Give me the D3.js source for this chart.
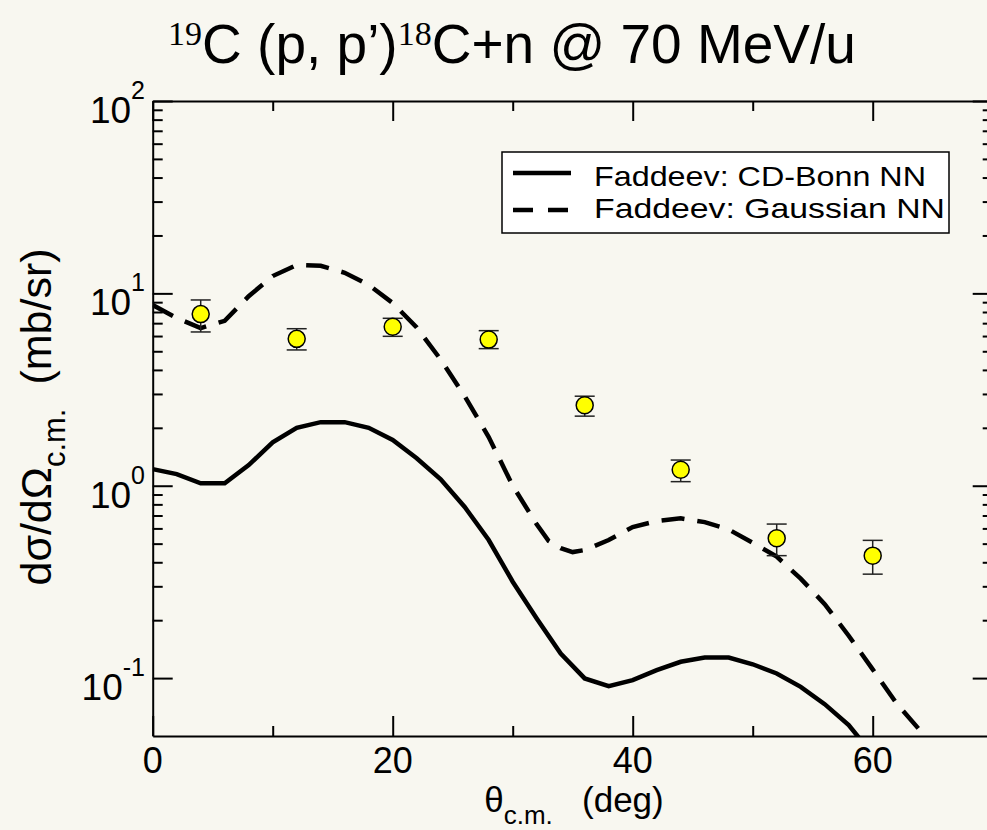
<!DOCTYPE html>
<html>
<head>
<meta charset="utf-8">
<script src="https://cdn.jsdelivr.net/npm/d3@7"></script>
<style>
  body { margin: 0; background: #f8f7f0; }
  svg { display: block; }
  text { font-family: "Liberation Sans", Arial, Helvetica, sans-serif; fill: #000; }
</style>
</head>
<body>
<svg id="chart" width="987" height="830"></svg>
<script>
// Faddeev calculation, CD-Bonn NN interaction (mb/sr)
const cdBonnAngles = [0, 2, 4, 6, 8, 10, 12, 14, 16, 18, 20, 22, 24, 26, 28, 30, 32, 34, 36, 38, 40, 42, 44, 46, 48, 50, 52, 54, 56, 58, 60];
const cdBonnValues = [1.22, 1.15, 1.03, 1.03, 1.28, 1.68, 2.0, 2.14, 2.14, 2.0, 1.73, 1.39, 1.08, 0.775, 0.522, 0.317, 0.204, 0.134, 0.0996, 0.0909, 0.0976, 0.110, 0.1216, 0.128, 0.128, 0.118, 0.1057, 0.0901, 0.0732, 0.057, 0.040];

// Faddeev calculation, Gaussian NN interaction (mb/sr)
const gaussAngles = [0, 2, 4, 6, 8, 10, 12, 14, 16, 18, 20, 22, 24, 26, 28, 30, 32, 33, 34, 35, 36, 38, 40, 42, 44, 46, 48, 50, 52, 54, 56, 58, 60, 62, 64, 66];
const gaussValues = [8.7, 7.45, 6.6, 7.2, 9.66, 12.3, 14.05, 13.9, 12.8, 11.06, 8.91, 6.65, 4.53, 2.92, 1.79, 1.0, 0.63, 0.516, 0.474, 0.452, 0.463, 0.522, 0.61, 0.655, 0.677, 0.647, 0.592, 0.505, 0.428, 0.329, 0.2425, 0.166, 0.111, 0.0737, 0.053, 0.036];

// Measured cross sections with error bars
const expAngles = [4, 12, 20, 28, 36, 44, 52, 60];
const expValues = [7.8, 5.8, 6.7, 5.75, 2.62, 1.21, 0.533, 0.433];
const expLow    = [6.3, 5.08, 5.98, 5.16, 2.30, 1.05, 0.433, 0.347];
const expHigh   = [9.24, 6.55, 7.42, 6.4, 2.92, 1.36, 0.632, 0.52];

// Axis ticks
const xMajorTicks = [0, 20, 40, 60];
const xMinorTicks = [10, 30, 50, 70];
const yDecades = [-1, 0, 1, 2];
const legendLabels = ["Faddeev: CD-Bonn NN", "Faddeev: Gaussian NN"];

const svg = d3.select("#chart");
const W = 987, H = 830;
svg.append("rect").attr("width", W).attr("height", H).attr("fill", "#f8f7f0");

const pLeft = 152.7, pRight = 992.7, pTop = 101, pBottom = 736;
const x = d3.scaleLinear().domain([0, 70]).range([pLeft, pRight]);
const y = d3.scaleLog().domain([0.05, 100]).range([pBottom, pTop]);

const yMajor = yDecades.map(k => Math.pow(10, k));
const yMinor = [];
yDecades.forEach(k => {
  for (let m = 2; m <= 9; m++) {
    const v = m * Math.pow(10, k);
    if (v > 0.05 && v < 100) yMinor.push(v);
  }
});

// clip region for curves
svg.append("defs").append("clipPath").attr("id", "plotClip")
  .append("rect").attr("x", pLeft).attr("y", pTop).attr("width", pRight - pLeft).attr("height", pBottom - pTop);

function styleAxis(g) {
  g.selectAll(".domain").attr("stroke", "#000").attr("stroke-width", 2);
  g.selectAll(".tick line").attr("stroke", "#000").attr("stroke-width", 2);
  g.selectAll(".tick text").remove();
}

// bottom / top axes
svg.append("g").attr("transform", `translate(0,${pBottom})`)
  .call(d3.axisBottom(x).tickValues(xMajorTicks).tickSizeInner(-20).tickSizeOuter(0).tickFormat(""))
  .call(styleAxis);
svg.append("g").attr("transform", `translate(0,${pBottom})`)
  .call(d3.axisBottom(x).tickValues(xMinorTicks).tickSizeInner(-10).tickSizeOuter(0).tickFormat(""))
  .call(g => g.select(".domain").remove()).call(styleAxis);
svg.append("g").attr("transform", `translate(0,${pTop})`)
  .call(d3.axisTop(x).tickValues(xMajorTicks).tickSizeInner(-20).tickSizeOuter(0).tickFormat(""))
  .call(styleAxis);
svg.append("g").attr("transform", `translate(0,${pTop})`)
  .call(d3.axisTop(x).tickValues(xMinorTicks).tickSizeInner(-10).tickSizeOuter(0).tickFormat(""))
  .call(g => g.select(".domain").remove()).call(styleAxis);

// left / right axes
svg.append("g").attr("transform", `translate(${pLeft},0)`)
  .call(d3.axisLeft(y).tickValues(yMajor).tickSizeInner(-20).tickSizeOuter(0).tickFormat(""))
  .call(styleAxis);
svg.append("g").attr("transform", `translate(${pLeft},0)`)
  .call(d3.axisLeft(y).tickValues(yMinor).tickSizeInner(-10).tickSizeOuter(0).tickFormat(""))
  .call(g => g.select(".domain").remove()).call(styleAxis);
svg.append("g").attr("transform", `translate(${pRight},0)`)
  .call(d3.axisRight(y).tickValues(yMajor).tickSizeInner(-20).tickSizeOuter(0).tickFormat(""))
  .call(styleAxis);
svg.append("g").attr("transform", `translate(${pRight},0)`)
  .call(d3.axisRight(y).tickValues(yMinor).tickSizeInner(-10).tickSizeOuter(0).tickFormat(""))
  .call(g => g.select(".domain").remove()).call(styleAxis);

// x tick labels
svg.append("g").selectAll("text").data(xMajorTicks).join("text")
  .attr("x", d => x(d)).attr("y", pBottom + 36.5)
  .attr("text-anchor", "middle").attr("font-size", 36)
  .text(d => d);

// y tick labels as powers of ten
const yl = svg.append("g").selectAll("text").data(yDecades).join("text")
  .attr("x", 145).attr("y", d => y(Math.pow(10, d)) + 22)
  .attr("text-anchor", "end").attr("font-size", 37);
yl.append("tspan").text("10");
yl.append("tspan").attr("font-size", 25).attr("dy", -24).text(d => d);

// curves
const line = d3.line().x(d => x(d[0])).y(d => y(d[1]));
const plot = svg.append("g").attr("clip-path", "url(#plotClip)");
plot.append("path")
  .datum(d3.zip(cdBonnAngles, cdBonnValues))
  .attr("d", line).attr("fill", "none").attr("stroke", "#000").attr("stroke-width", 4.5);
plot.append("path")
  .datum(d3.zip(gaussAngles, gaussValues))
  .attr("d", line).attr("fill", "none").attr("stroke", "#000").attr("stroke-width", 4.5)
  .attr("stroke-dasharray", "23,13");

// data points with error bars
const pts = svg.append("g").selectAll("g").data(d3.range(expAngles.length)).join("g");
pts.append("line")
  .attr("x1", i => x(expAngles[i])).attr("x2", i => x(expAngles[i]))
  .attr("y1", i => y(expLow[i])).attr("y2", i => y(expHigh[i]))
  .attr("stroke", "#222").attr("stroke-width", 1.5);
[expLow, expHigh].forEach(arr => {
  pts.append("line")
    .attr("x1", i => x(expAngles[i]) - 10).attr("x2", i => x(expAngles[i]) + 10)
    .attr("y1", i => y(arr[i])).attr("y2", i => y(arr[i]))
    .attr("stroke", "#222").attr("stroke-width", 1.5);
});
pts.append("circle")
  .attr("cx", i => x(expAngles[i])).attr("cy", i => y(expValues[i])).attr("r", 8.5)
  .attr("fill", "#ffff00").attr("stroke", "#000").attr("stroke-width", 1.5);

// legend
const lg = svg.append("g");
lg.append("rect").attr("x", 502).attr("y", 152).attr("width", 447).attr("height", 81)
  .attr("fill", "#fff").attr("stroke", "#000").attr("stroke-width", 1.5);
lg.append("line").attr("x1", 513).attr("x2", 571).attr("y1", 173).attr("y2", 173)
  .attr("stroke", "#000").attr("stroke-width", 4.5);
lg.append("line").attr("x1", 513).attr("x2", 571).attr("y1", 210).attr("y2", 210)
  .attr("stroke", "#000").attr("stroke-width", 4.5).attr("stroke-dasharray", "20,15");
const legendWidths = [332, 351];
lg.selectAll("text").data(legendLabels).join("text")
  .attr("x", 594).attr("y", (d, i) => 186 + i * 32)
  .attr("font-size", 28)
  .attr("textLength", (d, i) => legendWidths[i]).attr("lengthAdjust", "spacingAndGlyphs")
  .text(d => d);

// title
const title = svg.append("text").attr("x", 512).attr("y", 63)
  .attr("text-anchor", "middle").attr("font-size", 55);
title.append("tspan").attr("font-family", "Liberation Serif").attr("font-size", 34).attr("dy", -18).text("19");
title.append("tspan").attr("dy", 18).text("C (p, p\u2019)");
title.append("tspan").attr("font-family", "Liberation Serif").attr("font-size", 34).attr("dy", -18).text("18");
title.append("tspan").attr("dy", 18).text("C+n @ 70 MeV/u");

// x axis title
const xt = svg.append("text").attr("x", 574).attr("y", 812)
  .attr("text-anchor", "middle").attr("font-size", 35);
xt.append("tspan").text("\u03b8");
xt.append("tspan").attr("font-size", 26).attr("dy", 12).text("c.m.");
xt.append("tspan").attr("dy", -12).text("\u00a0\u00a0\u00a0(deg)");

// y axis title
const yt = svg.append("text").attr("transform", "translate(51,417) rotate(-90)")
  .attr("text-anchor", "middle").attr("font-size", 43);
yt.append("tspan").text("d\u03c3/d\u03a9");
yt.append("tspan").attr("font-size", 31).attr("dy", 14).text("c.m.");
yt.append("tspan").attr("dy", -14).text("\u00a0\u00a0(mb/sr)");
</script>
</body>
</html>
